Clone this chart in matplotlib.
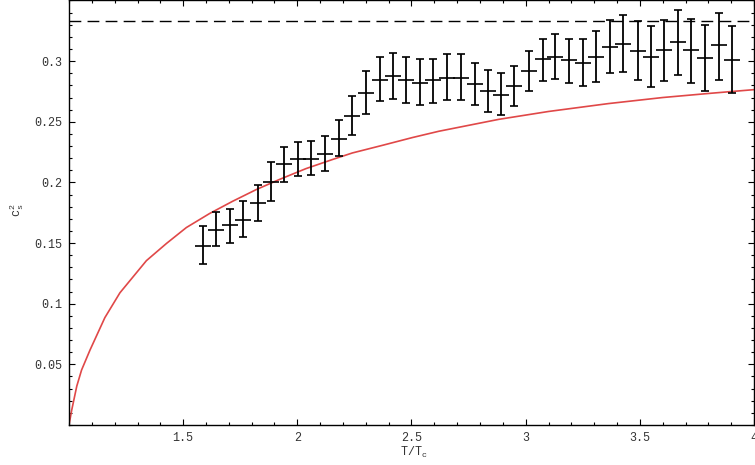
import matplotlib.pyplot as plt
import numpy as np
from matplotlib.ticker import MultipleLocator, FuncFormatter

plt.rcParams['font.family'] = ['Liberation Mono', 'DejaVu Sans Mono']
plt.rcParams['mathtext.fontset'] = 'custom'
plt.rcParams['mathtext.rm'] = 'Liberation Mono'
plt.rcParams['mathtext.it'] = 'Liberation Mono'

# lattice points: T/Tc, c_s^2 and the ends of the error bars
t_ratio = [1.586, 1.645, 1.706, 1.764, 1.827, 1.885, 1.943, 2.001, 2.061, 2.122,
           2.183, 2.239, 2.300, 2.362, 2.419, 2.477, 2.537, 2.595, 2.656, 2.717,
           2.777, 2.834, 2.892, 2.951, 3.013, 3.074, 3.130, 3.191, 3.249, 3.307,
           3.370, 3.425, 3.490, 3.547, 3.606, 3.665, 3.726, 3.785, 3.846, 3.905]
cs2 = [0.1477, 0.1606, 0.1645, 0.1694, 0.1834, 0.2007, 0.2153, 0.2194, 0.2197, 0.2238,
       0.2362, 0.2545, 0.2740, 0.2848, 0.2875, 0.2848, 0.2823, 0.2842, 0.2864, 0.2864,
       0.2814, 0.2751, 0.2718, 0.2795, 0.2919, 0.3015, 0.3034, 0.3007, 0.2984, 0.3034,
       0.3116, 0.3138, 0.3083, 0.3034, 0.3095, 0.3157, 0.3089, 0.3026, 0.3130, 0.3007]
cs2_hi = [0.1640, 0.1755, 0.1785, 0.1843, 0.1982, 0.2166, 0.2293, 0.2331, 0.2342, 0.2386,
          0.2518, 0.2713, 0.2916, 0.3034, 0.3067, 0.3034, 0.3015, 0.3020, 0.3056, 0.3056,
          0.2984, 0.2924, 0.2902, 0.2959, 0.3083, 0.3180, 0.3220, 0.3185, 0.3185, 0.3248,
          0.3336, 0.3380, 0.3330, 0.3287, 0.3341, 0.3418, 0.3344, 0.3295, 0.3399, 0.3287]
cs2_lo = [0.1324, 0.1474, 0.1497, 0.1546, 0.1680, 0.1851, 0.2004, 0.2054, 0.2065, 0.2092,
          0.2216, 0.2389, 0.2568, 0.2671, 0.2688, 0.2655, 0.2636, 0.2658, 0.2683, 0.2683,
          0.2636, 0.2581, 0.2554, 0.2628, 0.2751, 0.2836, 0.2856, 0.2823, 0.2795, 0.2828,
          0.2902, 0.2910, 0.2842, 0.2787, 0.2834, 0.2883, 0.2820, 0.2754, 0.2848, 0.2737]

# model curve
model_t = [1.0, 1.012, 1.034, 1.055, 1.092, 1.157, 1.223, 1.339, 1.427, 1.514, 1.616,
           1.717, 1.820, 1.921, 2.038, 2.154, 2.241, 2.373, 2.504, 2.620, 2.751, 2.882,
           3.1, 3.362, 3.6, 3.81, 4.0]
model_cs2 = [0.0, 0.0124, 0.032, 0.0453, 0.0618, 0.0885, 0.1090, 0.1355, 0.1497, 0.1628,
             0.1744, 0.1845, 0.1941, 0.2024, 0.2114, 0.2189, 0.2243, 0.2306, 0.2370,
             0.2422, 0.2471, 0.2520, 0.2585, 0.2650, 0.2700, 0.2735, 0.2765]

conformal = 1 / 3

xticks = [1.5, 2, 2.5, 3, 3.5, 4]
yticks = [0.05, 0.1, 0.15, 0.2, 0.25, 0.3]

c = np.array(cs2)
yerr = [c - np.array(cs2_lo), np.array(cs2_hi) - c]

fig = plt.figure(figsize=(7.55, 4.65), dpi=100)
ax = fig.add_axes([69 / 755, 40 / 465, 685 / 755, 424.5 / 465])

ax.plot(model_t, model_cs2, color='#e04848', lw=1.2, zorder=2)
ax.axhline(conformal, color='black', lw=1, dashes=(8.5, 4.5), zorder=2)
ax.errorbar(t_ratio, cs2, yerr=yerr, fmt='_', color='black', ms=11, mew=1.2,
            elinewidth=1.3, capsize=2.9, capthick=1.3, zorder=3)

ax.set_xlim(1, 4)
ax.set_ylim(0, 0.35)
ax.set_xticks(xticks)
ax.set_yticks(yticks)
ax.xaxis.set_minor_locator(MultipleLocator(0.1))
ax.yaxis.set_minor_locator(MultipleLocator(0.01))
fmt = FuncFormatter(lambda v, p: '%g' % v)
ax.xaxis.set_major_formatter(fmt)
ax.yaxis.set_major_formatter(fmt)

ax.tick_params(which='both', direction='in', top=True, right=True, width=0.8,
               labelsize=8.5, labelcolor='#333333', pad=5)
ax.tick_params(which='major', length=4)
ax.tick_params(which='minor', length=2.5)
for s in ax.spines.values():
    s.set_linewidth(1)

ax.set_xlabel(r'$\mathrm{T/T_c}$', fontsize=8.5, color='#333333')
ax.set_ylabel(r'$\mathrm{c_s^2}$', fontsize=8.5, color='#333333')
ax.xaxis.set_label_coords(0.504, -0.047)
ax.yaxis.set_label_coords(-0.063, 0.506)

fig.savefig('out.png', dpi=100)
